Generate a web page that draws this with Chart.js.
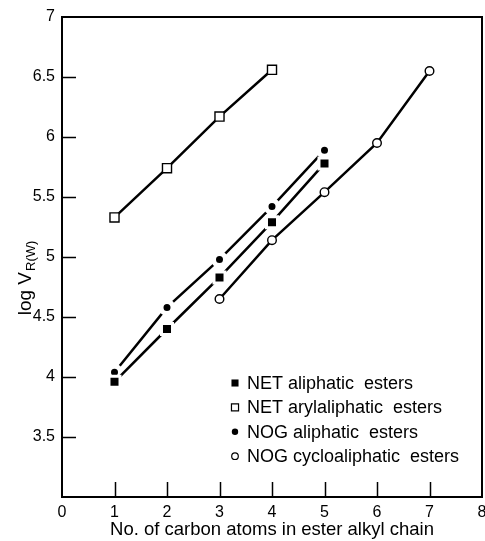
<!DOCTYPE html>
<html>
<head>
<meta charset="utf-8">
<script src="https://cdn.jsdelivr.net/npm/chart.js@4.4.0/dist/chart.umd.min.js"></script>
<style>
  html, body { margin: 0; padding: 0; background: #fff; }
</style>
</head>
<body>
<canvas id="chart" width="485" height="541"></canvas>
<script>
// values
const netAliphaticX = [1, 2, 3, 4, 5];
const netAliphatic = [3.96, 4.40, 4.83, 5.29, 5.78];
const netArylX = [1, 2, 3, 4];
const netArylaliphatic = [5.33, 5.74, 6.17, 6.56];
const nogAliphaticX = [1, 2, 3, 4, 5];
const nogAliphatic = [4.04, 4.58, 4.98, 5.42, 5.89];
const nogCycloX = [3, 4, 5, 6, 7];
const nogCycloaliphatic = [4.65, 5.14, 5.54, 5.95, 6.55];

const seriesNames = [
  'NET aliphatic esters',
  'NET arylaliphatic esters',
  'NOG aliphatic esters',
  'NOG cycloaliphatic esters'
];
const xTicks = [0, 1, 2, 3, 4, 5, 6, 7, 8];
const yTicks = [3.5, 4, 4.5, 5, 5.5, 6, 6.5, 7];

const FONT = "'Liberation Sans', Arial, sans-serif";

const toPoints = (xs, ys) => xs.map((x, i) => ({ x: x, y: ys[i] }));

// filled markers get a white rim so the line looks broken around them
const datasets = [
  {
    label: seriesNames[0],
    data: toPoints(netAliphaticX, netAliphatic),
    pointStyle: 'rect', pointRadius: 7.8, pointBackgroundColor: '#000',
    pointBorderColor: '#fff', pointBorderWidth: 3
  },
  {
    label: seriesNames[1],
    data: toPoints(netArylX, netArylaliphatic),
    pointStyle: 'rect', pointRadius: 6.4, pointBackgroundColor: '#fff',
    pointBorderColor: '#000', pointBorderWidth: 1.4
  },
  {
    label: seriesNames[2],
    data: toPoints(nogAliphaticX, nogAliphatic),
    pointStyle: 'circle', pointRadius: 6, pointBackgroundColor: '#000',
    pointBorderColor: '#fff', pointBorderWidth: 5
  },
  {
    label: seriesNames[3],
    data: toPoints(nogCycloX, nogCycloaliphatic),
    pointStyle: 'circle', pointRadius: 4.3, pointBackgroundColor: '#fff',
    pointBorderColor: '#000', pointBorderWidth: 1.4
  }
].map(d => Object.assign({
  showLine: true,
  borderColor: '#000',
  borderWidth: 2.5,
  tension: 0
}, d, { pointHoverRadius: d.pointRadius }));

// legend markers (smaller, drawn without the rim)
const legendMarks = [
  { pointStyle: 'rect', radius: 5, fill: '#000', stroke: '#000', borderWidth: 0 },
  { pointStyle: 'rect', radius: 5, fill: '#fff', stroke: '#000', borderWidth: 1.2 },
  { pointStyle: 'circle', radius: 3.2, fill: '#000', stroke: '#000', borderWidth: 0 },
  { pointStyle: 'circle', radius: 3.3, fill: '#fff', stroke: '#000', borderWidth: 1.2 }
];

const framePlugin = {
  id: 'frame',
  afterDraw(chart) {
    const ctx = chart.ctx;
    const { left, right, top, bottom } = chart.chartArea;
    const xs = chart.scales.x, ys = chart.scales.y;
    ctx.save();
    ctx.strokeStyle = '#000';
    ctx.lineWidth = 2;
    ctx.strokeRect(left, top, right - left, bottom - top);

    // inward tick marks
    ctx.lineWidth = 1.5;
    ctx.beginPath();
    xTicks.slice(1, -1).forEach(v => {
      const px = Math.round(xs.getPixelForValue(v)) + 0.5;
      ctx.moveTo(px, bottom);
      ctx.lineTo(px, bottom - 15);
    });
    yTicks.slice(0, -1).forEach(v => {
      const py = Math.round(ys.getPixelForValue(v)) + 0.5;
      ctx.moveTo(left, py);
      ctx.lineTo(left + 14, py);
    });
    ctx.stroke();

    // y axis title with subscript
    ctx.fillStyle = '#000';
    ctx.textBaseline = 'alphabetic';
    ctx.textAlign = 'left';
    const main = 'log V', sub = 'R(W)';
    ctx.font = '19px ' + FONT;
    const wMain = ctx.measureText(main).width;
    ctx.font = '13px ' + FONT;
    const wSub = ctx.measureText(sub).width;
    const total = wMain + 1 + wSub;
    ctx.translate(31, 278 + total / 2);
    ctx.rotate(-Math.PI / 2);
    ctx.font = '19px ' + FONT;
    ctx.fillText(main, 0, 0);
    ctx.font = '13px ' + FONT;
    ctx.fillText(sub, wMain + 1, 4);
    ctx.setTransform(1, 0, 0, 1, 0, 0);

    // legend
    ctx.font = '18px ' + FONT;
    ctx.textBaseline = 'middle';
    seriesNames.forEach((name, i) => {
      const y = 383 + i * 24.4;
      const m = legendMarks[i];
      ctx.fillStyle = m.fill;
      ctx.strokeStyle = m.stroke;
      ctx.lineWidth = m.borderWidth;
      Chart.helpers.drawPoint(ctx, {
        pointStyle: m.pointStyle, radius: m.radius, rotation: 0, borderWidth: m.borderWidth
      }, 235, y);
      ctx.fillStyle = '#000';
      ctx.fillText(name.replace(/ esters$/, '  esters'), 247, y + 1);
    });
    ctx.restore();
  }
};

new Chart(document.getElementById('chart'), {
  type: 'scatter',
  data: { datasets: datasets },
  options: {
    responsive: false,
    animation: false,
    devicePixelRatio: 1,
    layout: { autoPadding: false, padding: { left: 0, right: 3, top: 17, bottom: 0 } },
    plugins: { legend: { display: false }, tooltip: { enabled: false } },
    scales: {
      x: {
        type: 'linear', min: 0, max: 8,
        afterBuildTicks: s => { s.ticks = xTicks.map(v => ({ value: v })); },
        afterFit: s => { s.height = 44; s.paddingLeft = 0; s.paddingRight = 0; },
        grid: { display: false, drawTicks: false },
        border: { display: false },
        ticks: { color: '#000', padding: 6, font: { family: FONT, size: 16 }, maxRotation: 0 },
        title: {
          display: true, text: 'No. of carbon atoms in ester alkyl chain',
          color: '#000', font: { family: FONT, size: 18.5 }, padding: { top: 0, bottom: 0 }
        }
      },
      y: {
        type: 'linear', min: 3, max: 7,
        afterBuildTicks: s => { s.ticks = yTicks.map(v => ({ value: v })); },
        afterFit: s => { s.width = 62; s.paddingTop = 0; s.paddingBottom = 0; },
        grid: { display: false, drawTicks: false },
        border: { display: false },
        ticks: { color: '#000', padding: 7, font: { family: FONT, size: 16 }, callback: v => String(v) }
      }
    }
  },
  plugins: [framePlugin]
});
</script>
</body>
</html>
